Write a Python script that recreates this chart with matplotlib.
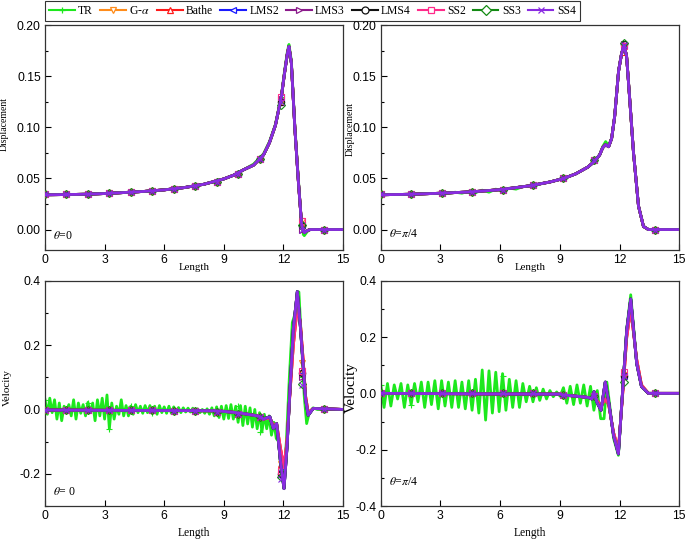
import numpy as np
import matplotlib
matplotlib.use("Agg")
from matplotlib import pyplot as plt
from matplotlib.lines import Line2D
from matplotlib.ticker import MultipleLocator, FormatStrFormatter

plt.rcParams['font.family'] = ['Liberation Sans', 'DejaVu Sans']
plt.rcParams['mathtext.fontset'] = 'stix'
plt.rcParams['axes.unicode_minus'] = False

methods = ["TR", "G-$\\alpha$", "Bathe", "LMS2", "LMS3", "LMS4", "SS2", "SS3", "SS4"]
colors = ["#1de81d", "#ff8c1a", "#ff1a1a", "#1a1aff", "#8b1a8b", "#111111",
          "#ff2a8a", "#138a13", "#8a2be2"]
markers = ["+", "v", "^", "<", ">", "o", "s", "D", "x"]
damped_methods = ["G-$\\alpha$", "Bathe", "SS2"]

# marker stations along the length
mark0_x = [0, 1.08, 2.16, 3.24, 4.32, 5.4, 6.48, 7.56, 8.64, 9.72, 10.8, 11.88, 12.96, 14.04]
mark45_x = [0, 1.53, 3.06, 4.59, 6.12, 7.65, 9.18, 10.71, 12.24, 13.77]

# ---- displacement, theta = 0
disp0_x = [0, 1, 2, 3, 4, 5, 6, 7, 8, 9, 9.5, 10, 10.5, 11, 11.3, 11.6, 11.9, 12.05,
           12.2, 12.28, 12.4, 12.58, 12.75, 12.92, 13.05, 13.2, 13.35, 15]
disp0_y = [0.034, 0.0342, 0.0345, 0.0352, 0.0362, 0.0373, 0.0388, 0.041, 0.0443, 0.0495,
           0.0532, 0.0585, 0.063, 0.073, 0.085, 0.102, 0.130, 0.152, 0.172, 0.179, 0.163,
           0.098, 0.048, 0.004, -0.003, -0.001, 0, 0]
disp0_tr_y = [0.034, 0.0342, 0.0345, 0.0352, 0.0362, 0.0373, 0.0388, 0.041, 0.0443, 0.0495,
              0.0532, 0.0585, 0.064, 0.074, 0.086, 0.103, 0.131, 0.154, 0.174, 0.181, 0.165,
              0.1, 0.05, 0.003, -0.006, -0.002, 0, 0]
disp0_mark = [0.0343, 0.0343, 0.0346, 0.0356, 0.0366, 0.0376, 0.040, 0.0428, 0.0467,
              0.0546, 0.0686, 0.125, 0.004, 0.0]
disp0_mark_peak = [0.13, 0.125, 0.125, 0.13, 0.128, 0.125, 0.13, 0.122, 0.125]
disp0_mark_fall = [-0.002, 0.008, 0.006, 0.004, 0.0, 0.003, 0.008, 0.004, 0.0]

# ---- displacement, theta = pi/4
disp45_x = [0, 1.5, 3, 4.5, 6, 7.5, 8.5, 9.2, 9.8, 10.4, 10.7, 11.0, 11.15, 11.3, 11.45,
            11.6, 11.75, 11.95, 12.1, 12.22, 12.35, 12.5, 12.7, 12.95, 13.2, 13.45, 15]
disp45_y = [0.034, 0.0345, 0.0355, 0.0368, 0.039, 0.0428, 0.0465, 0.050, 0.0545, 0.061,
            0.066, 0.073, 0.080, 0.083, 0.081, 0.089, 0.110, 0.155, 0.172, 0.180, 0.170,
            0.130, 0.075, 0.023, 0.003, 0.0, 0.0]
disp45_tr_x = [0, 1.5, 3, 3.4, 3.74, 4.08, 4.42, 4.76, 5.1, 5.44, 5.78, 6.12, 6.46, 6.8,
               7.14, 7.5, 8.5, 9.2, 9.8, 10.4, 10.7, 11.0, 11.15, 11.3, 11.45, 11.6, 11.75,
               11.95, 12.1, 12.22, 12.35, 12.5, 12.7, 12.95, 13.2, 13.45, 15]
disp45_tr_y = [0.034, 0.0345, 0.0355, 0.0352, 0.0365, 0.0355, 0.0375, 0.036, 0.0385, 0.0365,
               0.0395, 0.0375, 0.0405, 0.0395, 0.042, 0.0428, 0.0465, 0.050, 0.0545, 0.061,
               0.066, 0.073, 0.081, 0.086, 0.082, 0.089, 0.110, 0.155, 0.172, 0.180, 0.170,
               0.130, 0.075, 0.023, 0.003, 0.0, 0.0]
disp45_mark = [0.0343, 0.0346, 0.0356, 0.037, 0.039, 0.0435, 0.0503, 0.068, 0.181, 0.0]
disp45_mark_peak = [0.178, 0.176, 0.174, 0.18, 0.181, 0.181, 0.179, 0.182, 0.18]

# ---- velocity, theta = 0
vel0_x = [0, 8.5, 9.0, 9.5, 9.9, 10.2, 10.5, 10.8, 11.0, 11.15, 11.32, 11.49, 11.66, 11.85,
          12.03, 12.18, 12.33, 12.5, 12.7, 12.85, 13.0, 13.12, 13.25, 13.5, 15]
vel0_y = [-0.002, -0.004, -0.006, -0.009, -0.012, -0.015, -0.018, -0.022, -0.03, -0.026,
          -0.023, -0.059, -0.044, -0.16, -0.246, -0.12, 0.06, 0.25, 0.366, 0.26, 0.132,
          0.03, -0.018, 0.003, 0.0]
vel0_damped_y = [-0.002, -0.004, -0.006, -0.009, -0.012, -0.015, -0.018, -0.022, -0.03,
                 -0.028, -0.026, -0.05, -0.045, -0.12, -0.18, -0.1, 0.05, 0.2, 0.32, 0.27,
                 0.15, 0.04, -0.01, 0.003, 0.0]
tr0_step = 0.12
tr0_vel_grid = [
    0.03, -0.015, 0.035, -0.01, 0.03, -0.03, 0.02, -0.035, 0.01, -0.005,
    0.015, -0.02, 0.03, -0.03, 0.02, -0.012, 0.015, -0.02, 0.022, -0.01,
    0.02, -0.035, 0.03, -0.02, 0.035, -0.03, 0.045, -0.06, 0.02, -0.03,
    0.01, -0.015, 0.03, -0.02, 0.012, -0.02, 0.01, -0.015, 0.015, -0.01,
    0.01, -0.012, 0.012, -0.01, 0.012, -0.012, 0.01, -0.015, 0.012, -0.01,
    0.008, -0.012, 0.01, -0.012, 0.008, -0.01, 0.006, -0.01, 0.005, -0.008,
    0.004, -0.008, 0.004, -0.01, 0.002, -0.01, 0.0, -0.012, 0.002, -0.015,
    0.005, -0.02, 0.008, -0.025, 0.01, -0.03, 0.012, -0.028, 0.015, -0.03,
    0.01, -0.04, 0.012, -0.05, 0.01, -0.045, 0.005, -0.055, 0.0, -0.06,
    -0.01, -0.07, -0.015, -0.06, -0.02, -0.08, -0.04,
]
tr0_vel_tail_x = [11.64, 11.76, 11.88, 12.0, 12.15, 12.3, 12.45, 12.6, 12.78, 12.92, 13.05,
                  13.17, 13.3, 13.5, 13.7, 15]
tr0_vel_tail_y = [-0.09, -0.1, -0.19, -0.225, -0.1, 0.1, 0.27, 0.3, 0.365, 0.2, 0.04,
                  -0.044, -0.01, 0.005, 0.0, 0.0]
vel0_mark = [-0.002, -0.002, -0.003, -0.003, -0.003, -0.003, -0.004, -0.005, -0.008,
             -0.013, -0.022, -0.2, 0.1, 0.0]
tr0_vel_mark = [0.03, -0.005, 0.02, -0.06, 0.012, -0.01, 0.0, -0.005, -0.01, 0.01, -0.07,
                -0.2, 0.1, 0.0]
vel0_mark_peak = [-0.2, -0.17, -0.17, -0.19, -0.2, -0.2, -0.19, -0.21, -0.215]
vel0_mark_fall = [0.1, 0.143, 0.12, 0.11, 0.1, 0.112, 0.12, 0.08, 0.076]

# ---- velocity, theta = pi/4
vel45_x = [0, 9.0, 9.2, 9.5, 9.8, 10.1, 10.45, 10.6, 10.72, 10.85, 11.07, 11.28, 11.45,
           11.7, 11.94, 12.19, 12.36, 12.56, 12.86, 13.1, 13.45, 15]
vel45_y = [0.0, -0.003, -0.006, -0.008, -0.01, -0.012, -0.015, -0.02, 0.006, -0.03, -0.06,
           0.04, -0.03, -0.15, -0.215, 0.047, 0.225, 0.335, 0.106, 0.024, 0.0, 0.0]
vel45_damped_y = [0.0, -0.003, -0.006, -0.008, -0.01, -0.012, -0.015, -0.018, -0.005,
                  -0.025, -0.045, -0.02, -0.04, -0.14, -0.2, 0.03, 0.2, 0.3, 0.12, 0.03,
                  0.0, 0.0]
tr45_step = 0.17
tr45_vel_grid = [
    0.03, -0.05, 0.035, -0.045, 0.03, -0.02, 0.035, -0.05, 0.03, -0.04,
    0.035, -0.03, 0.04, -0.05, 0.04, -0.04, 0.045, -0.055, 0.045, -0.045,
    0.04, -0.05, 0.045, -0.05, 0.04, -0.055, 0.045, -0.06, 0.05, -0.07,
    0.083, -0.095, 0.08, -0.07, 0.075, -0.065, 0.07, -0.06, 0.05, -0.05,
    0.045, -0.05, 0.035, -0.03, 0.025, -0.03, 0.02, -0.025, 0.015, -0.02,
    0.01, -0.012, 0.005, -0.01, 0.02, -0.035, 0.025, -0.04, 0.03, -0.035,
    0.03, -0.045, 0.025, -0.06, 0.01, -0.09,
]
tr45_vel_tail_x = [11.22, 11.36, 11.5, 11.7, 11.94, 12.19, 12.36, 12.56, 12.86, 13.1, 13.45, 15]
tr45_vel_tail_y = [-0.09, 0.04, -0.04, -0.16, -0.22, 0.05, 0.23, 0.35, 0.11, 0.025, 0.0, 0.0]
vel45_mark = [0.0, 0.0, 0.0, 0.0, 0.0, 0.0, -0.005, -0.008, 0.06, 0.0]
tr45_vel_mark = [0.03, -0.04, 0.0, -0.005, 0.06, -0.01, 0.0, -0.01, 0.06, 0.0]
vel45_mark_peak = [0.06, 0.065, 0.07, 0.06, 0.055, 0.06, 0.075, 0.04, 0.06]


def grid_line(values, step, tail_x, tail_y):
    x = [round(i * step, 3) for i in range(len(values))]
    return x + tail_x, list(values) + tail_y


def draw_panel(ax, x, y, y_damped, tr_x, tr_y, xm, ym_base, ym_tr, overrides):
    for i, (name, c, m) in enumerate(zip(methods, colors, markers)):
        if i == 0:
            ax.plot(tr_x, tr_y, color=c, lw=2, zorder=2)
            ym = list(ym_tr)
        else:
            yy = y_damped if name in damped_methods else y
            ax.plot(x, yy, color=c, lw=2, zorder=2 + i)
            ym = list(ym_base)
        for k, vals in overrides.items():
            ym[k] = vals[i]
        ms = 4 if m == "D" else 4.6
        ax.plot(xm, ym, ls='none', marker=m, mec=c, mfc='none', ms=ms, mew=0.8,
                zorder=2 + i)


def style_axes(ax, ylim, major, minor, fmt):
    ax.set_xlim(0, 15)
    ax.set_ylim(*ylim)
    ax.xaxis.set_major_locator(MultipleLocator(3))
    ax.yaxis.set_major_locator(MultipleLocator(major))
    ax.yaxis.set_minor_locator(MultipleLocator(minor))
    ax.yaxis.set_major_formatter(FormatStrFormatter(fmt))
    ax.tick_params(which='major', direction='in', length=4, width=0.8, labelsize=8.7, pad=3)
    ax.tick_params(which='minor', direction='in', length=2.5, width=0.8)
    for s in ax.spines.values():
        s.set_color('#333333')
        s.set_linewidth(0.9)


serif = ['Liberation Serif', 'DejaVu Serif']
fig = plt.figure(figsize=(6.85, 5.39), dpi=100)
W, H = 685.0, 539.0
ax1 = fig.add_axes([45 / W, 1 - 250 / H, 298 / W, 225 / H])
ax2 = fig.add_axes([380.7 / W, 1 - 250 / H, 298.6 / W, 225 / H])
ax3 = fig.add_axes([45 / W, 1 - 506 / H, 298 / W, 225.3 / H])
ax4 = fig.add_axes([380.7 / W, 1 - 506 / H, 298.6 / W, 225.3 / H])

draw_panel(ax1, disp0_x, disp0_y, disp0_y, disp0_x, disp0_tr_y, mark0_x,
           disp0_mark, disp0_mark, {11: disp0_mark_peak, 12: disp0_mark_fall})
draw_panel(ax2, disp45_x, disp45_y, disp45_y, disp45_tr_x, disp45_tr_y, mark45_x,
           disp45_mark, disp45_mark, {8: disp45_mark_peak})
tx, ty = grid_line(tr0_vel_grid, tr0_step, tr0_vel_tail_x, tr0_vel_tail_y)
draw_panel(ax3, vel0_x, vel0_y, vel0_damped_y, tx, ty, mark0_x,
           vel0_mark, tr0_vel_mark, {11: vel0_mark_peak, 12: vel0_mark_fall})
tx, ty = grid_line(tr45_vel_grid, tr45_step, tr45_vel_tail_x, tr45_vel_tail_y)
draw_panel(ax4, vel45_x, vel45_y, vel45_damped_y, tx, ty, mark45_x,
           vel45_mark, tr45_vel_mark, {8: vel45_mark_peak})

style_axes(ax1, (-0.02, 0.20), 0.05, 0.025, '%.2f')
style_axes(ax2, (-0.02, 0.20), 0.05, 0.025, '%.2f')
style_axes(ax3, (-0.3, 0.4), 0.2, 0.1, '%.1f')
style_axes(ax4, (-0.4, 0.4), 0.2, 0.1, '%.1f')

# label anchors: x-label top edge, y-label right edge
for ax, xl, yl, ylab, fs_y, xy in [
        (ax1, -0.06, -0.122, "Displacement", 7, 0.56),
        (ax2, -0.06, -0.086, "Displacement", 7, 0.54),
        (ax3, -0.095, -0.112, "Velocity", 8, 0.526),
        (ax4, -0.095, -0.076, "Velocity", 11, 0.524)]:
    ax.set_xlabel("Length", family=serif, fontsize=7.8 if ax in (ax1, ax2) else 8.3)
    ax.xaxis.set_label_coords(0.5, xl)
    ax.set_ylabel(ylab, family=serif, fontsize=fs_y)
    ax.yaxis.set_label_coords(yl, xy)

ax1.text(0.027, 0.062, r"$\theta$=0", transform=ax1.transAxes, family=serif,
         fontsize=8.5, va='center')
ax2.text(0.028, 0.07, r"$\theta$=$\pi$/4", transform=ax2.transAxes, family=serif,
         fontsize=8.5, va='center')
ax3.text(0.027, 0.062, r"$\theta$= 0", transform=ax3.transAxes, family=serif,
         fontsize=8.5, va='center')
ax4.text(0.028, 0.107, r"$\theta$=$\pi$/4", transform=ax4.transAxes, family=serif,
         fontsize=8.5, va='center')

handles = [Line2D([], [], color=c, lw=1.5, marker=m, ms=5, mfc='white', mec=c, mew=0.9)
           for c, m in zip(colors, markers)]
leg = fig.legend(handles, methods, loc='upper left', bbox_to_anchor=(45 / W, 0.999),
                 ncol=9, frameon=True, fancybox=False, edgecolor='black',
                 prop={'family': serif, 'size': 8.4}, handlelength=2.2,
                 handletextpad=0.3, columnspacing=0.6, borderpad=0.35, borderaxespad=0)
leg.get_frame().set_linewidth(0.8)

fig.savefig("out.png", dpi=100)
